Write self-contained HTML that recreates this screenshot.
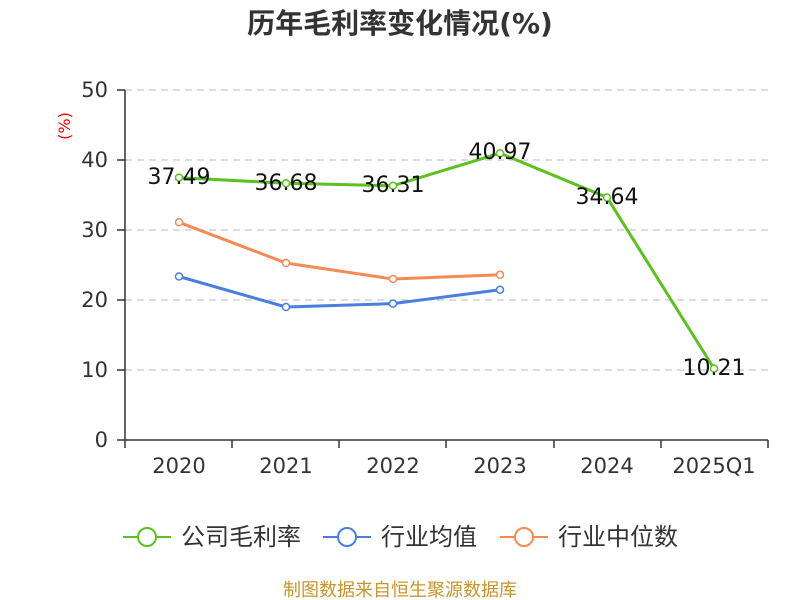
<!DOCTYPE html>
<html><head><meta charset="utf-8"><style>
html,body{margin:0;padding:0;background:#fff;}
svg{display:block;font-family:"DejaVu Sans","Noto Sans CJK SC",sans-serif;}
</style></head><body>
<svg width="800" height="600" viewBox="0 0 800 600">
<text x="400" y="33" text-anchor="middle" font-size="28" font-weight="bold" fill="#333">历年毛利率变化情况(%)</text>
<text x="70" y="126" text-anchor="middle" font-size="16" fill="#e00" transform="rotate(-90 70 126)">(%)</text>
<g stroke="#bbb" stroke-dasharray="7,5" stroke-width="1">
<line x1="125" y1="90" x2="768" y2="90"/><line x1="125" y1="160" x2="768" y2="160"/>
<line x1="125" y1="230" x2="768" y2="230"/><line x1="125" y1="300" x2="768" y2="300"/>
<line x1="125" y1="370" x2="768" y2="370"/>
</g>
<g stroke="#333" stroke-width="1.5">
<line x1="125" y1="90" x2="125" y2="440"/>
<line x1="125" y1="440" x2="768" y2="440"/>
<line x1="117" y1="90" x2="125" y2="90"/><line x1="117" y1="160" x2="125" y2="160"/>
<line x1="117" y1="230" x2="125" y2="230"/><line x1="117" y1="300" x2="125" y2="300"/>
<line x1="117" y1="370" x2="125" y2="370"/><line x1="117" y1="440" x2="125" y2="440"/>
<line x1="125" y1="440" x2="125" y2="448"/><line x1="232" y1="440" x2="232" y2="448"/>
<line x1="339" y1="440" x2="339" y2="448"/><line x1="446" y1="440" x2="446" y2="448"/>
<line x1="554" y1="440" x2="554" y2="448"/><line x1="661" y1="440" x2="661" y2="448"/>
<line x1="768" y1="440" x2="768" y2="448"/>
</g>
<g font-size="21" fill="#333" text-anchor="end">
<text x="108" y="97">50</text><text x="108" y="167">40</text><text x="108" y="237">30</text>
<text x="108" y="307">20</text><text x="108" y="377">10</text><text x="108" y="447">0</text>
</g>
<g font-size="21" fill="#333" text-anchor="middle">
<text x="179" y="473">2020</text><text x="286" y="473">2021</text><text x="393" y="473">2022</text>
<text x="500" y="473">2023</text><text x="607" y="473">2024</text><text x="714" y="473">2025Q1</text>
</g>
<polyline fill="none" stroke="#f58a55" stroke-width="3" points="179,222.3 286,263 393,279 500,274.8"/>
<polyline fill="none" stroke="#4a7ee0" stroke-width="3" points="179,276.5 286,307 393,303.6 500,289.8"/>
<polyline fill="none" stroke="#5cc020" stroke-width="3" points="179,177.6 286,183.2 393,185.8 500,153.2 607,197.5 714,368.5"/>
<g fill="#fff" stroke-width="1.5">
<g stroke="#f58a55"><circle cx="179" cy="222.3" r="3.5"/><circle cx="286" cy="263" r="3.5"/><circle cx="393" cy="279" r="3.5"/><circle cx="500" cy="274.8" r="3.5"/></g>
<g stroke="#4a7ee0"><circle cx="179" cy="276.5" r="3.5"/><circle cx="286" cy="307" r="3.5"/><circle cx="393" cy="303.6" r="3.5"/><circle cx="500" cy="289.8" r="3.5"/></g>
<g stroke="#5cc020"><circle cx="179" cy="177.6" r="3.5"/><circle cx="286" cy="183.2" r="3.5"/><circle cx="393" cy="185.8" r="3.5"/><circle cx="500" cy="153.2" r="3.5"/><circle cx="607" cy="197.5" r="3.5"/><circle cx="714" cy="368.5" r="3.5"/></g>
</g>
<g font-size="22" fill="#111" text-anchor="middle">
<text x="179" y="184">37.49</text><text x="286" y="190">36.68</text><text x="393" y="192">36.31</text>
<text x="500" y="159">40.97</text><text x="607" y="204">34.64</text><text x="714" y="375">10.21</text>
</g>
<g stroke-width="2" fill="#fff">
<line x1="123" y1="537" x2="171" y2="537" stroke="#5cc020"/><circle cx="147" cy="537" r="9" stroke="#5cc020"/>
<line x1="323" y1="537" x2="371" y2="537" stroke="#4a7ee0"/><circle cx="347" cy="537" r="9" stroke="#4a7ee0"/>
<line x1="500" y1="537" x2="548" y2="537" stroke="#f58a55"/><circle cx="524" cy="537" r="9" stroke="#f58a55"/>
</g>
<g font-size="24" fill="#333">
<text x="181" y="545">公司毛利率</text><text x="381" y="545">行业均值</text><text x="558" y="545">行业中位数</text>
</g>
<text x="400" y="596" text-anchor="middle" font-size="18" fill="#c8952a">制图数据来自恒生聚源数据库</text>
</svg>
</body></html>
